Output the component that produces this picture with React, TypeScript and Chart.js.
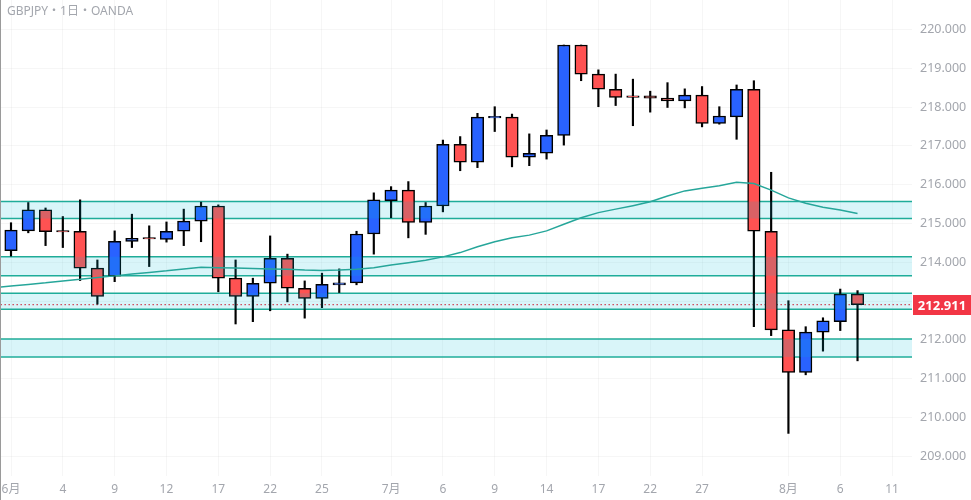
import { useEffect, useRef } from 'react';
import { Chart, registerables } from 'chart.js';

Chart.register(...registerables);

// ---- data ----
const titleText = 'GBPJPY・1日・OANDA';

// trading days (M/D); candles exist for the first `opens.length`
const axisDates = [
  '6/1', '6/2', '6/3', '6/4', '6/5', '6/8', '6/9', '6/10', '6/11', '6/12',
  '6/15', '6/16', '6/17', '6/18', '6/19', '6/22', '6/23', '6/24', '6/25', '6/26',
  '6/29', '6/30', '7/1', '7/2', '7/3', '7/6', '7/7', '7/8', '7/9', '7/10',
  '7/13', '7/14', '7/15', '7/16', '7/17', '7/20', '7/21', '7/22', '7/23', '7/24',
  '7/27', '7/28', '7/29', '7/30', '7/31', '8/3', '8/4', '8/5', '8/6', '8/7',
  '8/10', '8/11', '8/12',
];

const opens = [
  214.30, 214.81, 215.35, 214.82, 214.80, 213.85, 213.64, 214.54, 214.64, 214.59,
  214.80, 215.06, 215.45, 213.59, 213.12, 213.46, 214.10, 213.33, 213.07, 213.42,
  213.47, 214.73, 215.59, 215.86, 215.03, 215.45, 217.04, 216.58, 217.72, 217.74,
  216.71, 216.81, 217.27, 219.60, 218.85, 218.46, 218.29, 218.29, 218.23, 218.16,
  218.31, 217.58, 217.75, 218.46, 214.80, 212.26, 211.16, 212.20, 212.47, 213.18,
];
const highs = [
  215.02, 215.54, 215.40, 215.18, 215.61, 214.06, 214.81, 215.24, 214.94, 215.04,
  215.37, 215.55, 215.48, 214.06, 213.59, 214.68, 214.21, 213.52, 213.72, 213.83,
  214.80, 215.79, 215.95, 216.08, 215.54, 217.15, 217.24, 217.84, 218.01, 217.82,
  217.31, 217.41, 219.60, 219.60, 218.96, 218.85, 218.72, 218.41, 218.63, 218.47,
  218.53, 218.01, 218.57, 218.68, 216.32, 213.01, 212.34, 212.57, 213.31, 213.27,
];
const lows = [
  214.16, 214.76, 214.43, 214.38, 213.53, 212.92, 213.50, 214.38, 213.89, 214.52,
  214.43, 214.53, 213.24, 212.41, 212.47, 212.75, 212.98, 212.56, 212.83, 213.22,
  213.42, 214.21, 215.15, 214.63, 214.72, 215.30, 216.36, 216.44, 217.37, 216.46,
  216.49, 216.66, 217.02, 218.68, 218.01, 218.04, 217.52, 217.87, 217.99, 217.98,
  217.49, 217.56, 217.17, 212.34, 212.11, 209.59, 211.10, 211.71, 212.24, 211.46,
];
const closes = [
  214.83, 215.35, 214.79, 214.78, 213.85, 213.12, 214.54, 214.62, 214.60, 214.80,
  215.06, 215.45, 213.59, 213.12, 213.46, 214.10, 213.33, 213.07, 213.43, 213.47,
  214.73, 215.61, 215.86, 215.03, 215.45, 217.04, 216.58, 217.74, 217.76, 216.71,
  216.81, 217.27, 219.60, 218.85, 218.46, 218.25, 218.25, 218.23, 218.16, 218.31,
  217.58, 217.77, 218.46, 214.80, 212.26, 211.16, 212.20, 212.49, 213.18, 212.911,
];

// moving average, starting one day before the first candle (5/29)
const maStartIndex = -1;
const maValues = [
  213.34,
  213.39, 213.43, 213.47, 213.52, 213.56, 213.61, 213.65, 213.70, 213.74, 213.78,
  213.83, 213.87, 213.86, 213.85, 213.84, 213.83, 213.82, 213.80, 213.79, 213.80,
  213.82, 213.86, 213.93, 213.99, 214.05, 214.14, 214.25, 214.40, 214.53, 214.63,
  214.70, 214.81, 214.98, 215.15, 215.28, 215.37, 215.46, 215.56, 215.71, 215.84,
  215.91, 215.97, 216.06, 216.03, 215.86, 215.66, 215.52, 215.42, 215.35, 215.26,
];

// support / resistance zones
const zoneLows = [215.13, 213.65, 212.79, 211.56];
const zoneHighs = [215.57, 214.14, 213.20, 212.02];

// axis ticks
const xTickDates = ['6/1', '6/4', '6/9', '6/12', '6/17', '6/22', '6/25', '7/1', '7/6', '7/9', '7/14', '7/17', '7/22', '7/27', '8/3', '8/6', '8/11'];
const yTickValues = [209, 210, 211, 212, 213, 214, 215, 216, 217, 218, 219, 220];

// ---- styles ----
const BLUE = '#2962ff';
const RED = '#ff5252';
const TEAL = '#22ab94';
const ZONE_FILL = 'rgba(0, 188, 212, 0.15)';
const TEXT = '#a3a6ad';
const GRID = 'rgba(0,0,0,0.035)';
const FONT = '"Noto Sans", "Noto Sans CJK JP", sans-serif';

const X_MIN = -0.579;
const X_MAX = 52.153;
const Y_MAX = 220.7603;
const Y_MIN = 208.492;

function tickLabel(date: string): string {
  const idx = axisDates.indexOf(date);
  const [m, d] = date.split('/');
  const prev = idx > 0 ? axisDates[idx - 1].split('/')[0] : null;
  if (prev !== m) return `${m}月`;
  return d;
}

export default function App() {
  const canvasRef = useRef<HTMLCanvasElement | null>(null);

  useEffect(() => {
    document.body.style.margin = '0';
    const canvas = canvasRef.current;
    if (!canvas) return;

    const n = opens.length;
    const wickData = opens.map((_, i) => ({ x: i, y: [lows[i], highs[i]] }));
    const bodyData = opens.map((o, i) => ({ x: i, y: [o, closes[i]] }));
    const bodyColors = opens.map((o, i) => (closes[i] >= o ? BLUE : RED));
    const maData = maValues.map((v, i) => ({ x: i + maStartIndex, y: v }));
    const spanStart = -2;
    const spanEnd = axisDates.length + 2;
    const lastClose = closes[n - 1];

    const zoneLineSets: any[] = [];
    const zoneFillSets: any[] = [];
    zoneLows.forEach((lo, z) => {
      const hi = zoneHighs[z];
      [lo, hi].forEach((v) => {
        zoneLineSets.push({
          type: 'line',
          data: [{ x: spanStart, y: v }, { x: spanEnd, y: v }],
          borderColor: TEAL,
          borderWidth: 1.5,
          pointRadius: 0,
          fill: false,
          order: 10,
        });
      });
      zoneFillSets.push({
        type: 'line',
        data: [{ x: spanStart, y: hi }, { x: spanEnd, y: hi }],
        borderColor: 'rgba(0,0,0,0)',
        borderWidth: 0,
        pointRadius: 0,
        backgroundColor: ZONE_FILL,
        fill: { value: lo },
        order: 1,
      });
    });

    const tickIdx = xTickDates.map((d) => axisDates.indexOf(d));
    const tickText: Record<number, string> = {};
    xTickDates.forEach((d, k) => { tickText[tickIdx[k]] = tickLabel(d); });

    const overlay = {
      id: 'overlay',
      afterDraw(chart: any) {
        const { ctx, chartArea, scales } = chart;
        ctx.save();
        ctx.font = `12px ${FONT}`;
        ctx.fillStyle = TEXT;
        ctx.textBaseline = 'middle';
        ctx.textAlign = 'left';
        ctx.fillText(titleText, 6, 12);
        const y = scales.y.getPixelForValue(lastClose);
        ctx.fillStyle = '#f23645';
        ctx.fillRect(chartArea.right + 1, Math.round(y) - 10, chart.width - chartArea.right - 1, 20);
        ctx.fillStyle = '#ffffff';
        ctx.font = `bold 13px ${FONT}`;
        ctx.textAlign = 'center';
        ctx.fillText(lastClose.toFixed(3), (chartArea.right + 1 + chart.width) / 2, Math.round(y) + 1);
        ctx.restore();
      },
    };

    const chart = new Chart(canvas, {
      type: 'bar',
      data: {
        datasets: [
          ...zoneLineSets,
          {
            type: 'line',
            data: [{ x: spanStart, y: lastClose }, { x: spanEnd, y: lastClose }],
            borderColor: '#f23645',
            borderWidth: 1.2,
            borderDash: [1.5, 2.5],
            pointRadius: 0,
            fill: false,
            order: 9,
          },
          {
            type: 'bar',
            data: wickData,
            backgroundColor: '#000000',
            borderWidth: 0,
            barThickness: 1.5,
            grouped: false,
            order: 7,
          },
          {
            type: 'bar',
            data: bodyData,
            backgroundColor: bodyColors,
            borderColor: '#000000',
            borderWidth: 1.5,
            borderSkipped: false,
            barThickness: 12.5,
            grouped: false,
            order: 6,
          },
          ...zoneFillSets,
          {
            type: 'line',
            data: maData,
            borderColor: '#26a69a',
            borderWidth: 1.5,
            pointRadius: 0,
            tension: 0,
            fill: false,
            order: 0,
          },
        ] as any,
      },
      options: {
        animation: false,
        responsive: false,
        maintainAspectRatio: false,
        layout: { padding: 0 },
        plugins: {
          legend: { display: false },
          tooltip: { enabled: false },
          title: { display: false },
        },
        scales: {
          x: {
            type: 'linear',
            min: X_MIN,
            max: X_MAX,
            offset: false,
            grid: { color: GRID, drawTicks: false, offset: false },
            border: { display: false },
            afterBuildTicks: (scale: any) => {
              scale.ticks = tickIdx.map((v) => ({ value: v }));
            },
            afterFit: (scale: any) => {
              scale.height = 24;
              scale.paddingLeft = 0;
              scale.paddingRight = 0;
            },
            ticks: {
              autoSkip: false,
              maxRotation: 0,
              padding: 6,
              color: TEXT,
              font: { family: FONT, size: 12 },
              callback: (v: any) => tickText[v as number] ?? '',
            },
          },
          y: {
            type: 'linear',
            position: 'right',
            min: Y_MIN,
            max: Y_MAX,
            grid: { color: GRID, drawTicks: false },
            border: { display: false },
            afterBuildTicks: (scale: any) => {
              scale.ticks = yTickValues.map((v) => ({ value: v }));
            },
            afterFit: (scale: any) => {
              scale.width = 59;
              scale.paddingTop = 0;
              scale.paddingBottom = 0;
            },
            ticks: {
              padding: 8,
              color: TEXT,
              font: { family: FONT, size: 12.5 },
              callback: (v: any) => Number(v).toFixed(3),
            },
          },
        },
      } as any,
      plugins: [overlay],
    });

    return () => chart.destroy();
  }, []);

  return (
    <div style={{ width: 970, height: 500, borderLeft: '1px solid #9a9a9a', background: '#ffffff' }}>
      <canvas ref={canvasRef} width={970} height={500} style={{ display: 'block' }} />
    </div>
  );
}
